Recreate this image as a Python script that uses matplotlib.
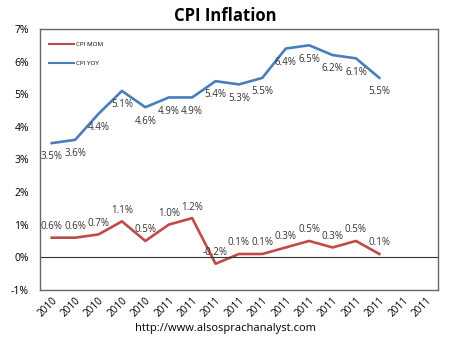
import numpy as np
import matplotlib
matplotlib.use("Agg")
from matplotlib import pyplot as plt

years = ["2010"] * 5 + ["2011"] * 12
cpi_yoy = [3.5, 3.6, 4.4, 5.1, 4.6, 4.9, 4.9, 5.4, 5.3, 5.5, 6.4, 6.5, 6.2, 6.1, 5.5]
cpi_mom = [0.6, 0.6, 0.7, 1.1, 0.5, 1.0, 1.2, -0.2, 0.1, 0.1, 0.3, 0.5, 0.3, 0.5, 0.1]

red = "#BE4B48"
blue = "#4A7EBB"
plt.rcParams["font.family"] = ["Open Sans", "DejaVu Sans"]

fig = plt.figure(figsize=(4.5, 3.41), dpi=100)
ax = fig.add_axes([0.089, 0.15, 0.884, 0.765])

x = np.arange(len(cpi_yoy))
ax.plot(x, cpi_mom, color=red, lw=1.9, label="CPI MOM")
ax.plot(x, cpi_yoy, color=blue, lw=1.9, label="CPI YOY")

for xi, v in zip(x, cpi_yoy):
    ax.annotate(f"{v:.1f}%", (xi, v), xytext=(0, -6), textcoords="offset points",
                ha="center", va="top", fontsize=7, color="#333333")
for xi, v in zip(x, cpi_mom):
    ax.annotate(f"{v:.1f}%", (xi, v), xytext=(0, 4), textcoords="offset points",
                ha="center", va="bottom", fontsize=7, color="#333333")

ax.axhline(0, color="#333333", lw=0.8)
ax.set_xlim(-0.5, len(years) - 0.5)
ax.set_ylim(-1, 7)
ax.set_yticks(range(-1, 8))
ax.set_yticklabels([f"{v}%" for v in range(-1, 8)], fontsize=7.5)
ax.set_xticks(range(len(years)))
ax.set_xticklabels(years, rotation=45, ha="right", rotation_mode="anchor", fontsize=7.2)
ax.tick_params(axis="y", length=0, pad=8)
ax.tick_params(axis="x", length=0, pad=4)
for s in ax.spines.values():
    s.set_color("#666666")
    s.set_linewidth(1)

leg = ax.legend(loc="upper left", fontsize=4.5, frameon=False, handlelength=4,
                handletextpad=0.3, labelspacing=2.2, borderaxespad=1.0,
                bbox_to_anchor=(0.0, 0.985))
for line in leg.get_lines():
    line.set_linewidth(1.5)

fig.text(0.5, 0.952, "CPI Inflation", ha="center", va="center", fontsize=12, fontweight="bold")
fig.text(0.5, 0.036, "http://www.alsosprachanalyst.com", ha="center", va="center", fontsize=8)

fig.savefig("out.png", dpi=100)
